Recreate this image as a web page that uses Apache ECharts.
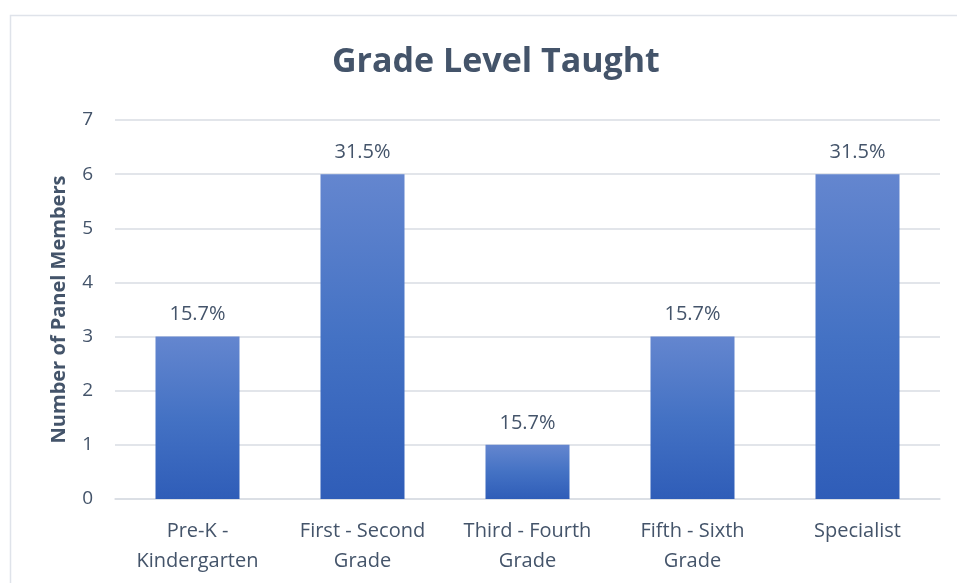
<!DOCTYPE html>
<html>
<head>
<meta charset="utf-8">
<title>Grade Level Taught</title>
<script src="https://cdn.jsdelivr.net/npm/echarts@6/dist/echarts.min.js"></script>
<style>
  html, body { margin: 0; padding: 0; background: #fff; }
  #chart { width: 957px; height: 583px; }
</style>
</head>
<body>
<div id="chart"></div>
<script>
const categories = ['Pre-K -\nKindergarten', 'First - Second\nGrade', 'Third - Fourth\nGrade', 'Fifth - Sixth\nGrade', 'Specialist'];
const members = [3, 6, 1, 3, 6];
const percentLabels = ['15.7%', '31.5%', '15.7%', '15.7%', '31.5%'];

const textColor = '#44546a';
const font = '"Open Sans", "Noto Sans", sans-serif';

const chart = echarts.init(document.getElementById('chart'));

chart.setOption({
  animation: false,
  backgroundColor: '#fff',
  graphic: [
    {
      type: 'rect',
      shape: { x: 10.5, y: 15.5, width: 980, height: 620 },
      style: { fill: 'none', stroke: '#dfe3ea', lineWidth: 1.5 },
      silent: true
    }
  ],
  title: {
    text: 'Grade Level Taught',
    left: 327,
    top: 40,
    textStyle: { color: textColor, fontFamily: font, fontWeight: 'bold', fontSize: 34 }
  },
  grid: { left: 115, right: 17, top: 120, bottom: 84 },
  xAxis: {
    type: 'category',
    data: categories,
    axisLine: { lineStyle: { color: '#d9dde3', width: 1.5 } },
    axisTick: { show: false },
    axisLabel: {
      color: textColor, fontFamily: font, fontSize: 20, lineHeight: 30, margin: 17,
      interval: 0
    }
  },
  yAxis: {
    type: 'value',
    min: 0,
    max: 7,
    interval: 1,
    name: 'Number of Panel Members',
    nameLocation: 'middle',
    nameGap: 46,
    nameTextStyle: { color: textColor, fontFamily: font, fontWeight: 'bold', fontSize: 20 },
    axisLine: { show: false },
    axisTick: { show: false },
    splitLine: { lineStyle: { color: '#d9dde3', width: 1.5 } },
    axisLabel: { color: textColor, fontFamily: font, fontSize: 19, margin: 22 }
  },
  series: [
    {
      type: 'bar',
      data: members,
      barWidth: 84,
      itemStyle: {
        color: new echarts.graphic.LinearGradient(0, 0, 0, 1, [
          { offset: 0, color: '#6486cf' },
          { offset: 0.5, color: '#4472c4' },
          { offset: 1, color: '#2f5db8' }
        ])
      },
      label: {
        show: true,
        position: 'top',
        distance: 12,
        color: textColor,
        fontFamily: font,
        fontSize: 20,
        formatter: (p) => percentLabels[p.dataIndex]
      }
    }
  ]
});
</script>
</body>
</html>
